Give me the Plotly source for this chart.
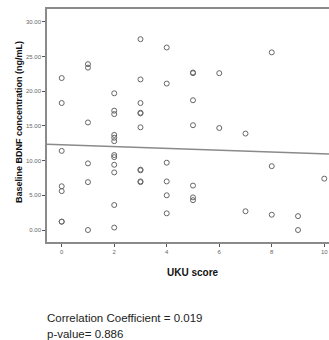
import plotly.graph_objects as go

# UKU score (x) and baseline BDNF concentration (y)
uku = ([0]*7 + [1]*6 + [2]*12 + [3]*10 + [4]*6 + [5]*7 + [6]*2 + [7]*2
       + [8]*3 + [9]*2 + [10]*1)
bdnf = [21.9, 18.3, 11.4, 6.3, 5.6, 1.2, 1.2,
        23.9, 23.4, 15.5, 9.6, 6.9, 0.0,
        19.7, 17.2, 16.7, 13.7, 13.3, 12.8, 10.8, 10.5, 9.4, 8.3, 3.6, 0.35,
        27.5, 21.7, 18.3, 16.9, 16.8, 14.8, 8.7, 8.6, 7.0, 6.9,
        26.3, 21.1, 9.7, 7.0, 5.0, 2.4,
        22.7, 22.6, 18.7, 15.1, 6.4, 4.7, 4.3,
        22.6, 14.7,
        13.9, 2.7,
        25.6, 9.2, 2.2,
        2.0, 0.0,
        7.4]

# fit line end points
fit_x = [-0.56, 10.18]
fit_y = [12.34, 10.96]

y_ticks = [0, 5, 10, 15, 20, 25, 30]
y_tick_text = ["0.00", "5.00", "10.00", "15.00", "20.00", "25.00", "30.00"]
x_ticks = [0, 2, 4, 6, 8, 10]
x_tick_text = ["0", "2", "4", "6", "8", "10"]

fig = go.Figure()
fig.add_trace(go.Scatter(x=fit_x, y=fit_y, mode="lines",
                         line=dict(color="#8a8a8a", width=1.5),
                         hoverinfo="skip", showlegend=False))
fig.add_trace(go.Scatter(x=uku, y=bdnf, mode="markers",
                         marker=dict(symbol="circle-open", size=5,
                                     color="#666666", line=dict(width=1)),
                         cliponaxis=False, showlegend=False))

fig.update_layout(
    width=329, height=340,
    margin=dict(l=47, r=0, t=9, b=98),
    paper_bgcolor="white", plot_bgcolor="white",
    font=dict(family="Liberation Sans, Arial, sans-serif", color="#333"),
    xaxis=dict(range=[-0.56, 10.18], tickvals=x_ticks, ticktext=x_tick_text,
               showgrid=False, zeroline=False, showline=True, mirror=True,
               linecolor="#8a8a8a", linewidth=1.5, ticks="outside",
               ticklen=3, tickcolor="#555", tickfont=dict(size=6, color="#666")),
    yaxis=dict(range=[-1.73, 31.85], tickvals=y_ticks, ticktext=y_tick_text,
               showgrid=False, zeroline=False, showline=True,
               linecolor="#8a8a8a", linewidth=1.5, ticks="outside",
               ticklen=3, tickcolor="#555", tickfont=dict(size=6, color="#666")),
    annotations=[
        dict(text="<b>UKU score</b>", xref="paper", yref="paper",
             x=(193 - 47) / 282, y=-(263 - 233) / 233, showarrow=False,
             xanchor="center", yanchor="middle",
             font=dict(size=10, color="#111")),
        dict(text="<b>Baseline BDNF concentration (ng/mL)</b>", xref="paper",
             yref="paper", x=(19 - 47) / 282, y=(233 - 122 + 9) / 233,
             textangle=-90, showarrow=False, xanchor="center",
             yanchor="middle", font=dict(size=9, color="#111")),
        dict(text="Correlation Coefficient = 0.019", xref="paper",
             yref="paper", x=(45 - 47) / 282, y=-(318 - 242) / 233,
             showarrow=False, xanchor="left", yanchor="middle",
             font=dict(size=11.5, color="#222")),
        dict(text="p-value= 0.886", xref="paper", yref="paper",
             x=(45 - 47) / 282, y=-(334 - 242) / 233,
             showarrow=False, xanchor="left", yanchor="middle",
             font=dict(size=11.5, color="#222")),
    ],
)

fig.write_html("out.html")
